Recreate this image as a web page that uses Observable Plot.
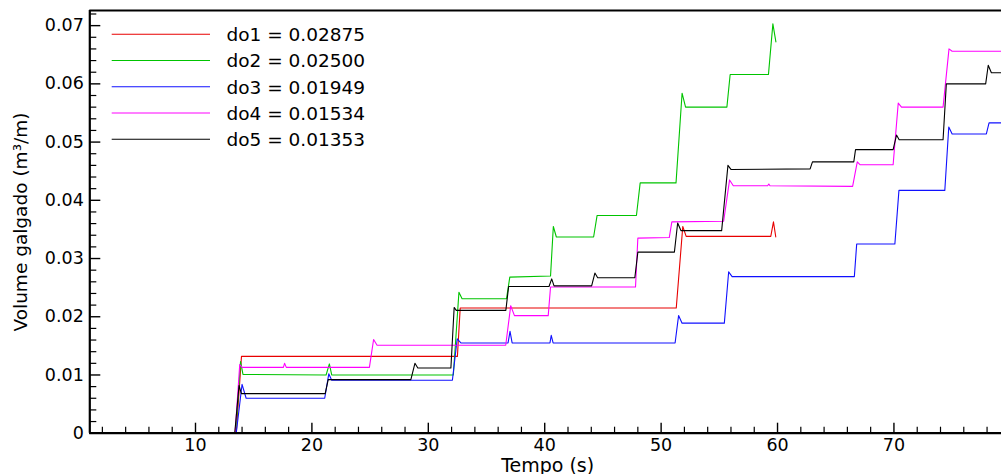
<!DOCTYPE html>
<html>
<head>
<meta charset="utf-8">
<script src="https://cdn.jsdelivr.net/npm/d3@7"></script>
<script src="https://cdn.jsdelivr.net/npm/@observablehq/plot@0.6"></script>
<style>
  html, body { margin: 0; padding: 0; background: #fff; }
  #chart { position: relative; width: 1001px; height: 474px; }
</style>
</head>
<body>
<div id="chart"></div>
<script>
// ---- data (time in s, volume in m3/m) ----
const seriesNames = ["do1 = 0.02875", "do2 = 0.02500", "do3 = 0.01949", "do4 = 0.01534", "do5 = 0.01353"];
const seriesColors = ["#e80000", "#00c400", "#1010ff", "#ff00ff", "#000000"];

const do1 = [[0.92,0],[13.5,0],[13.95,0.0132],[32.5,0.0132],[32.74,0.0215],[51.3,0.0215],[51.86,0.0355],[52.15,0.0338],[59.42,0.0338],[59.65,0.0363],[59.85,0.0337]];
const do2 = [[0.92,0],[13.45,0],[13.87,0.0123],[14.08,0.0101],[21.22,0.0100],[21.5,0.0119],[21.7,0.0100],[32.15,0.0100],[32.63,0.0242],[32.9,0.0231],[36.72,0.0231],[37.0,0.0268],[40.5,0.0270],[40.74,0.0355],[41.0,0.0337],[44.2,0.0337],[44.5,0.0374],[47.88,0.0374],[48.2,0.0430],[51.28,0.0430],[51.8,0.0584],[52.1,0.0560],[55.65,0.0560],[55.93,0.0616],[59.22,0.0616],[59.6,0.0703],[59.86,0.0672]];
const do3 = [[0.92,0],[13.5,0],[14.0,0.0084],[14.35,0.0060],[21.1,0.0060],[21.45,0.0102],[21.7,0.0091],[32.07,0.0091],[32.48,0.0162],[32.8,0.0155],[36.85,0.0155],[37.02,0.0175],[37.2,0.0155],[40.45,0.0155],[40.56,0.0168],[40.72,0.0155],[51.2,0.0155],[51.5,0.0202],[51.8,0.0189],[55.43,0.0189],[55.8,0.0277],[56.1,0.0269],[66.6,0.0269],[66.8,0.0325],[70.08,0.0325],[70.43,0.0417],[74.37,0.0417],[74.71,0.0526],[75.0,0.0514],[77.94,0.0514],[78.17,0.0533],[79.24,0.0533]];
const do4 = [[0.92,0],[13.4,0],[13.8,0.0118],[14.0,0.0113],[17.55,0.0113],[17.65,0.0120],[17.8,0.0113],[24.94,0.0113],[25.3,0.0161],[25.6,0.0151],[36.65,0.0151],[37.08,0.0219],[37.4,0.0202],[40.3,0.0202],[40.5,0.0251],[47.8,0.0251],[48.0,0.0335],[50.7,0.0336],[50.92,0.0363],[55.37,0.0364],[55.88,0.0435],[56.2,0.0425],[59.15,0.0425],[59.25,0.0428],[59.35,0.0425],[66.45,0.0424],[66.85,0.0466],[67.1,0.0461],[69.93,0.0461],[70.37,0.0567],[70.65,0.0560],[74.22,0.0560],[74.73,0.0660],[75.0,0.0656],[79.24,0.0656]];
const do5 = [[0.92,0],[13.37,0],[13.74,0.0082],[13.94,0.0068],[21.14,0.0068],[21.4,0.0092],[28.5,0.0092],[28.85,0.0120],[29.1,0.0112],[31.94,0.0112],[32.22,0.0216],[32.4,0.0211],[36.66,0.0211],[36.9,0.0252],[40.37,0.0252],[40.6,0.0265],[40.8,0.0253],[44.03,0.0253],[44.31,0.0275],[44.55,0.0267],[47.74,0.0267],[48.0,0.0311],[51.14,0.0311],[51.42,0.0361],[51.7,0.0348],[55.2,0.0348],[55.74,0.0460],[56.0,0.0453],[62.8,0.0454],[63.0,0.0466],[66.55,0.0466],[66.7,0.0487],[69.93,0.0487],[70.22,0.0512],[70.45,0.0504],[74.22,0.0504],[74.5,0.0600],[77.88,0.0600],[78.1,0.0632],[78.37,0.0619],[79.24,0.0619]];
const seriesData = [do1, do2, do3, do4, do5];

const xDomain = [0.92, 79.24];
const yDomain = [0, 0.0726];
const xMajorTicks = [10, 20, 30, 40, 50, 60, 70];
const xMinorTicks = d3.range(2, 79, 2).filter(d => d % 10 !== 0);
const yMajorTicks = [0, 0.01, 0.02, 0.03, 0.04, 0.05, 0.06, 0.07];
const yMinorTicks = d3.range(0.002, 0.0726, 0.002).filter(d => Math.abs(d * 100 - Math.round(d * 100)) > 1e-6);
const xLabel = "Tempo (s)";
const yLabel = "Volume galgado (m³/m)";

const FONT = "DejaVu Sans, Liberation Sans, Arial, sans-serif";

const lineMarks = seriesData.map((pts, i) =>
  Plot.line(pts, {x: d => d[0], y: d => d[1], stroke: seriesColors[i], strokeWidth: 1.1})
);

const plot = Plot.plot({
  width: 1001,
  height: 474,
  marginLeft: 89.3,
  marginRight: 0,
  marginTop: 10,
  marginBottom: 41.3,
  style: {fontFamily: FONT, fontSize: "17.5px", color: "#000", background: "#fff", overflow: "visible"},
  x: {domain: xDomain, axis: null},
  y: {domain: yDomain, axis: null},
  marks: [
    ...lineMarks,
    Plot.axisX({ticks: xMajorTicks, tickSize: -10, tickPadding: 15.5, tickFormat: d => String(d), label: null, strokeWidth: 1.4}),
    Plot.axisX({ticks: xMinorTicks, tickSize: -6, text: null, label: null, strokeWidth: 1.2}),
    Plot.axisY({ticks: yMajorTicks, tickSize: -11, tickPadding: 17, tickFormat: d => d === 0 ? "0" : d.toFixed(2), label: null, strokeWidth: 1.4}),
    Plot.axisY({ticks: yMinorTicks, tickSize: -7, text: null, label: null, strokeWidth: 1.2}),
    Plot.ruleY([yDomain[0]], {stroke: "#000", strokeWidth: 2.2}),
    Plot.ruleY([yDomain[1]], {stroke: "#000", strokeWidth: 2.2}),
    Plot.ruleX([xDomain[0]], {stroke: "#000", strokeWidth: 2.2}),
    Plot.text([xLabel], {frameAnchor: "bottom", lineAnchor: "top", dy: 25, dx: 2, fontSize: 19})
  ]
});

document.getElementById("chart").appendChild(plot);

const svg = d3.select(plot);
// y-axis title (rotated)
svg.append("text")
  .attr("transform", "translate(27,222) rotate(-90)")
  .attr("text-anchor", "middle")
  .attr("font-family", FONT).attr("font-size", "18.5px").attr("fill", "#000")
  .text(yLabel);

// ---- legend (inside the svg) ----
const leg = svg.append("g").attr("font-family", FONT).attr("font-size", "18.5px").attr("text-anchor", "start");
seriesNames.forEach((name, i) => {
  const y = 34.3 + i * 26.25;
  leg.append("line").attr("x1", 111.7).attr("x2", 210).attr("y1", y).attr("y2", y)
    .attr("stroke", seriesColors[i]).attr("stroke-width", 1.1);
  leg.append("text").attr("x", 226.5).attr("y", y + 6.8).attr("fill", "#000").text(name);
});
</script>
</body>
</html>
